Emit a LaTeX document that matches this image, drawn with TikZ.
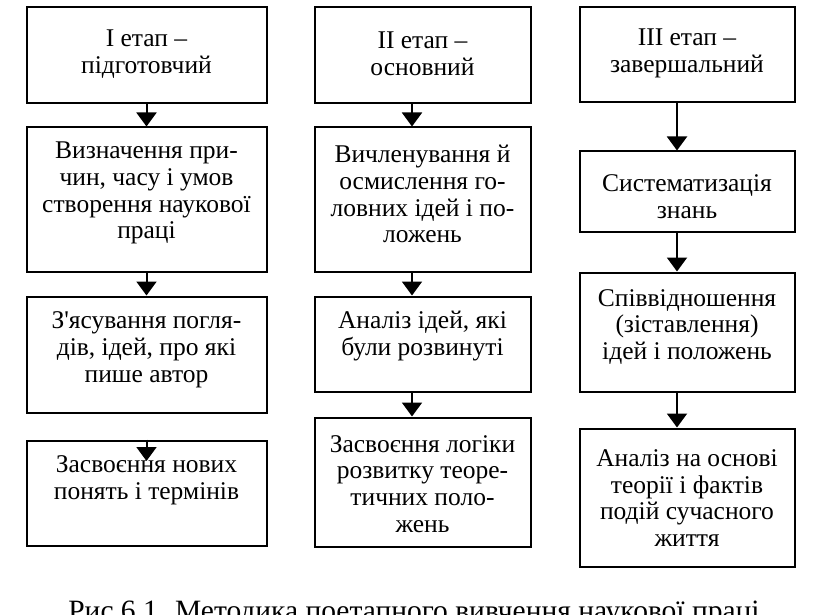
\documentclass[tikz,border=0pt]{standalone}
\usepackage{fontspec}
\setmainfont{Liberation Serif}
\newcommand\myboxfont{\fontsize{25.5}{26.8}\selectfont\lineskiplimit=-100pt\relax}
\newcommand\mycapfont{\fontsize{29.5}{32}\selectfont}
\usetikzlibrary{arrows.meta}
\tikzset{
  box/.style={draw, line width=2pt, inner sep=0pt},
  txt/.style={align=center, inner sep=0pt, font=\myboxfont},
  arr/.style={line width=2pt, -{Triangle[length=14pt,width=20pt]}},
}
\begin{document}
\begin{tikzpicture}[x=1pt,y=-1pt]
\useasboundingbox (0,0) rectangle (828,615);
% column 1
\node[box, minimum width=240pt, minimum height=96pt] (a1) at (146.5,55.5) {};
\node[box, minimum width=240pt, minimum height=144pt] (a2) at (146.5,199.5) {};
\node[box, minimum width=240pt, minimum height=116pt] (a3) at (146.5,354.5) {};
\node[box, minimum width=240pt, minimum height=105pt] (a4) at (146.5,493) {};
\node[txt] (a1t) at (146.5,54) {I етап –\\підготовчий};
\node[txt] (a2t) at (146.5,193) {Визначення при-\\чин, часу і умов\\створення наукової\\праці};
\node[txt] (a3t) at (146.5,350) {З\textquotesingle ясування погля-\\дів, ідей, про які\\пише автор};
\node[txt] (a4t) at (146.5,480) {Засвоєння нових\\понять і термінів};
% column 2
\node[box, minimum width=216pt, minimum height=96pt] (b1) at (422.5,55.5) {};
\node[box, minimum width=216pt, minimum height=144pt] (b2) at (422.5,199.5) {};
\node[box, minimum width=216pt, minimum height=95pt] (b3) at (422.5,344) {};
\node[box, minimum width=216pt, minimum height=129pt] (b4) at (422.5,482) {};
\node[txt] (b1t) at (422.5,54) {II етап –\\основний};
\node[txt] (b2t) at (422.5,194) {Вичленування й\\осмислення го-\\ловних ідей і по-\\ложень};
\node[txt] (b3t) at (422.5,336) {Аналіз ідей, які\\були розвинуті};
\node[txt] (b4t) at (422.5,484) {Засвоєння логіки\\розвитку теоре-\\тичних поло-\\жень};
% column 3
\node[box, minimum width=215pt, minimum height=95pt] (c1) at (687,55) {};
\node[box, minimum width=215pt, minimum height=80pt] (c2) at (687,191.5) {};
\node[box, minimum width=215pt, minimum height=119pt] (c3) at (687,332) {};
\node[box, minimum width=215pt, minimum height=138pt] (c4) at (687,497.5) {};
\node[txt] (c1t) at (687,53) {III етап –\\завершальний};
\node[txt] (c2t) at (687,197) {Систематизація\\знань};
\node[txt] (c3t) at (687,327) {Співвідношення\\(зіставлення)\\ідей і положень};
\node[txt] (c4t) at (687,498) {Аналіз на основі\\теорії і фактів\\подій сучасного\\життя};
% arrows
\draw[arr] (a1.south) -- (a2.north);
\draw[arr] (a2.south) -- (a3.north);
\coordinate (a4tip) at (146.5,461);
\draw[arr] (a4.north) -- (a4tip);
\draw[arr] ([xshift=-10.5pt]b1.south) -- ([xshift=-10.5pt]b2.north);
\draw[arr] ([xshift=-10.5pt]b2.south) -- ([xshift=-10.5pt]b3.north);
\draw[arr] ([xshift=-10.5pt]b3.south) -- ([xshift=-10.5pt]b4.north);
\draw[arr] ([xshift=-10pt]c1.south) -- ([xshift=-10pt]c2.north);
\draw[arr] ([xshift=-10pt]c2.south) -- ([xshift=-10pt]c3.north);
\draw[arr] ([xshift=-10pt]c3.south) -- ([xshift=-10pt]c4.north);
% caption
\node[font=\mycapfont, anchor=base, inner sep=0pt] (cap) at (414,620) {Рис 6.1. Методика поетапного вивчення наукової праці};
\end{tikzpicture}
\end{document}
